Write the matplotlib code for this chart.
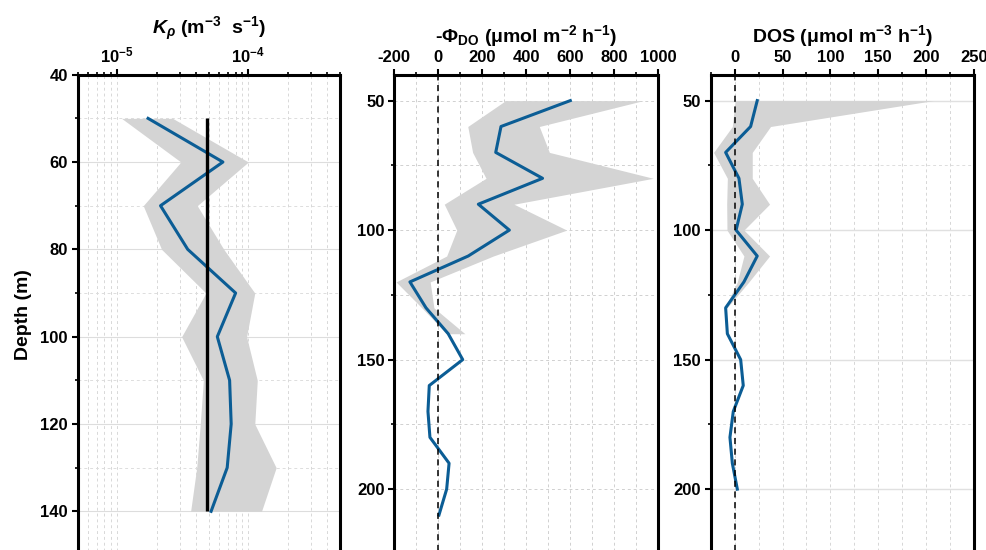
import numpy as np
import matplotlib
matplotlib.use("Agg")
import matplotlib.pyplot as plt
from matplotlib.ticker import MultipleLocator, LogLocator, NullFormatter

plt.rcParams['font.family'] = ['Liberation Sans', 'DejaVu Sans']
plt.rcParams['font.weight'] = 'bold'
plt.rcParams['axes.labelweight'] = 'bold'
plt.rcParams['axes.unicode_minus'] = False
plt.rcParams['mathtext.fontset'] = 'custom'
plt.rcParams['mathtext.rm'] = 'Liberation Sans:bold'
plt.rcParams['mathtext.it'] = 'Liberation Sans:italic:bold'
plt.rcParams['mathtext.bf'] = 'Liberation Sans:bold'

# ---- panel 1: K_rho ----
depth_k = [50, 60, 70, 80, 90, 100, 110, 120, 130, 140]
kp = [1.72e-5, 6.4e-5, 2.14e-5, 3.45e-5, 8.0e-5, 5.8e-5, 7.2e-5, 7.4e-5, 6.9e-5, 5.2e-5]
kp_lo = [1.08e-5, 3.06e-5, 1.58e-5, 2.18e-5, 4.75e-5, 3.1e-5, 4.54e-5, 4.3e-5, 4.04e-5, 3.63e-5]
kp_hi = [2.65e-5, 1.0e-4, 4.08e-5, 6.5e-5, 1.12e-4, 9.7e-5, 1.17e-4, 1.12e-4, 1.63e-4, 1.26e-4]
kp_mean = 4.8e-5

# ---- panel 2: -Phi_DO ----
depth_phi = [50, 60, 70, 80, 90, 100, 110, 120, 130, 140, 150, 160, 170, 180, 190, 200, 210]
phi = [600, 285, 261, 474, 182, 323, 136, -129, -56, 45, 111, -41, -47, -38, 49, 38, 3]
depth_phi_err = [50, 60, 70, 80, 90, 100, 110, 120, 130, 140]
phi_lo = [306, 134, 156, 217, 27, 84, 38, -192, -75, 38]
phi_hi = [932, 459, 505, 977, 344, 584, 250, -37, -20, 121]

# ---- panel 3: DOS ----
depth_dos = [50, 60, 70, 80, 90, 100, 110, 120, 130, 140, 150, 160, 170, 180, 190, 200]
dos = [23.6, 16.7, -9.4, 4.5, 8.0, 1.5, 23.6, 9.7, -9.4, -7.6, 6.3, 9.0, -1.4, -4.9, -2.4, 2.8]
depth_dos_err = [50, 60, 70, 80, 90, 100, 110, 120, 130]
dos_lo = [0.5, -2.4, -22.0, -7.6, -8.3, -8.0, 9.7, 2.8, -10.0]
dos_hi = [207.6, 37.5, 18.4, 18.4, 36.5, 9.7, 36.5, 14.9, -8.0]

blue = '#0b5d95'
shade = '#d4d4d4'
W, H = 987, 550

fig = plt.figure(figsize=(W / 100, H / 100), dpi=100)


def make_ax(left, right, top, bottom):
    return fig.add_axes([left / W, 1 - bottom / H, (right - left) / W, (bottom - top) / H])


def style(ax):
    for s in ax.spines.values():
        s.set_linewidth(2.2)
    ax.xaxis.set_ticks_position('top')
    ax.xaxis.set_label_position('top')
    ax.tick_params(which='major', direction='out', length=4, width=1.5,
                   labelsize=12, pad=3)
    ax.tick_params(which='minor', direction='out', length=2.5, width=1.2)
    ax.tick_params(axis='x', which='both', top=True, bottom=False)
    ax.set_axisbelow(True)


# panel 1
ax1 = make_ax(77.7, 340, 74.7, 555)
style(ax1)
ax1.set_xscale('log')
ax1.set_xlim(5e-6, 5e-4)
ax1.set_ylim(150, 40)
ax1.fill_betweenx(depth_k, kp_lo, kp_hi, color=shade, lw=0)
ax1.plot(kp, depth_k, color=blue, lw=2.2)
ax1.vlines(kp_mean, depth_k[0], depth_k[-1], color='black', lw=2.4)
ax1.set_xticks([1e-5, 1e-4], labels=[r'10$^{-5}$', r'10$^{-4}$'])
ax1.xaxis.set_minor_locator(LogLocator(base=10, subs=np.arange(2, 10)))
ax1.xaxis.set_minor_formatter(NullFormatter())
ax1.yaxis.set_major_locator(MultipleLocator(20))
ax1.yaxis.set_minor_locator(MultipleLocator(10))
ax1.grid(axis='x', which='both', color='#d8d8d8', ls=(0, (3, 3)), lw=0.7)
ax1.grid(axis='y', which='major', color='#dddddd', ls='-', lw=0.8)
ax1.grid(axis='y', which='minor', color='#dddddd', ls=(0, (3, 3)), lw=0.7)
ax1.set_xlabel(r'$K_{\rho}$ (m$^{-3}$  s$^{-1}$)', fontsize=14, labelpad=8)
ax1.set_ylabel('Depth (m)', fontsize=14, labelpad=6)

# panel 2
ax2 = make_ax(394.3, 658.3, 74.7, 553.9)
style(ax2)
ax2.set_xlim(-200, 1000)
ax2.set_ylim(225, 40)
ax2.fill_betweenx(depth_phi_err, phi_lo, phi_hi, color=shade, lw=0)
ax2.plot(phi, depth_phi, color=blue, lw=2.2)
ax2.axvline(0, color='black', lw=1.1, ls=(0, (4, 3)))
ax2.xaxis.set_major_locator(MultipleLocator(200))
ax2.xaxis.set_minor_locator(MultipleLocator(100))
ax2.yaxis.set_major_locator(MultipleLocator(50))
ax2.yaxis.set_minor_locator(MultipleLocator(25))
ax2.grid(which='both', color='#d0d0d0', ls=(0, (3, 3)), lw=0.7)
ax2.set_xlabel(r'-Φ$_{\mathrm{DO}}$ (μmol m$^{-2}$ h$^{-1}$)', fontsize=14, labelpad=6)

# panel 3
ax3 = make_ax(710.7, 974, 74.7, 553.9)
style(ax3)
ax3.set_xlim(-25, 250)
ax3.set_ylim(225, 40)
ax3.fill_betweenx(depth_dos_err, dos_lo, dos_hi, color=shade, lw=0)
ax3.plot(dos, depth_dos, color=blue, lw=2.2)
ax3.axvline(0, color='black', lw=1.1, ls=(0, (4, 3)))
ax3.set_xticks([0, 50, 100, 150, 200, 250])
ax3.xaxis.set_minor_locator(MultipleLocator(25))
ax3.yaxis.set_major_locator(MultipleLocator(50))
ax3.yaxis.set_minor_locator(MultipleLocator(25))
ax3.grid(axis='x', which='both', color='#d6d6d6', ls=(0, (3, 3)), lw=0.7)
ax3.grid(axis='y', which='major', color='#e0e0e0', ls='-', lw=1.0)
ax3.grid(axis='y', which='minor', color='#dddddd', ls=(0, (3, 3)), lw=0.7)
ax3.set_xlabel(r'DOS (μmol m$^{-3}$ h$^{-1}$)', fontsize=14, labelpad=6)

fig.savefig('out.png', dpi=100)
